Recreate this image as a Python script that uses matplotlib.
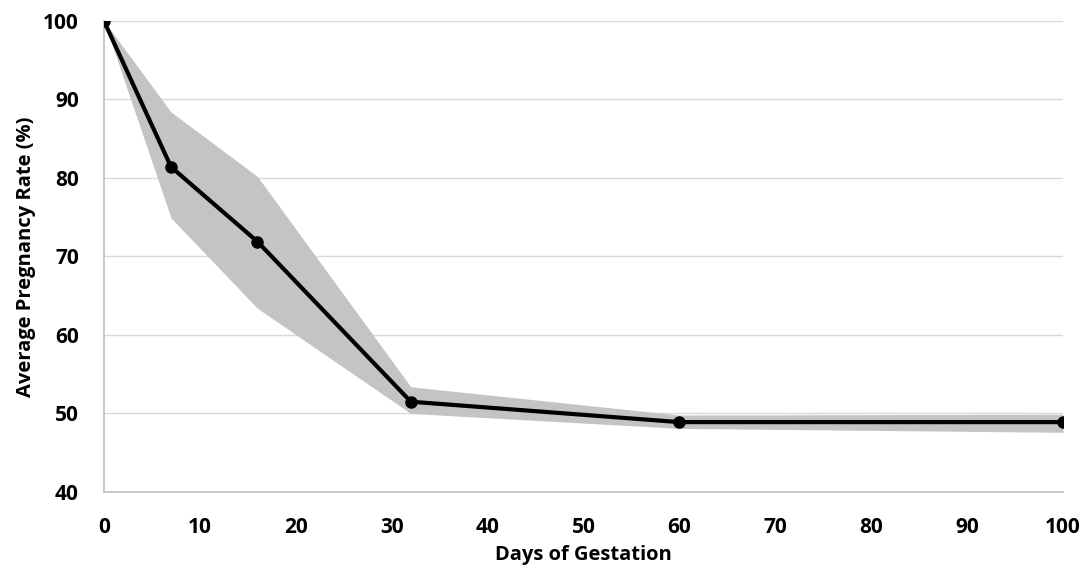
import matplotlib.pyplot as plt

# Days of gestation and pregnancy rate (%)
days = [0, 7, 16, 32, 60, 100]
rate = [100, 81.4, 71.9, 51.5, 48.9, 48.9]
upper = [100, 88.4, 80.2, 53.4, 49.8, 49.9]
lower = [100, 74.9, 63.4, 50.0, 48.1, 47.6]

plt.rcParams['font.family'] = ['Open Sans', 'DejaVu Sans']

fig = plt.figure(figsize=(10.92, 5.72), dpi=100)
ax = fig.add_axes([0.0952, 0.1399, 0.8782, 0.8234])

ax.fill_between(days, lower, upper, color='#c4c4c4', linewidth=0, zorder=2)
ax.plot(days, rate, color='black', linewidth=3, marker='o', markersize=8, zorder=3)

ax.set_xlim(0, 100)
ax.set_ylim(40, 100)
ax.set_xticks(range(0, 101, 10))
ax.set_yticks(range(40, 101, 10))
ax.grid(axis='y', color='#d9d9d9', linewidth=1, zorder=0)
ax.set_axisbelow(True)

for s in ['top', 'right']:
    ax.spines[s].set_visible(False)
for s in ['left', 'bottom']:
    ax.spines[s].set_color('#bfbfbf')
    ax.spines[s].set_linewidth(1.2)

ax.tick_params(axis='x', length=0, labelsize=15, pad=18)
ax.tick_params(axis='y', length=0, labelsize=15, pad=18)
for lab in ax.get_xticklabels() + ax.get_yticklabels():
    lab.set_fontweight('bold')

ax.set_xlabel('Days of Gestation', fontsize=14.5, fontweight='bold', labelpad=5)
ax.set_ylabel('Average Pregnancy Rate (%)', fontsize=14.5, fontweight='bold', labelpad=5)

fig.savefig('out.png', dpi=100)
